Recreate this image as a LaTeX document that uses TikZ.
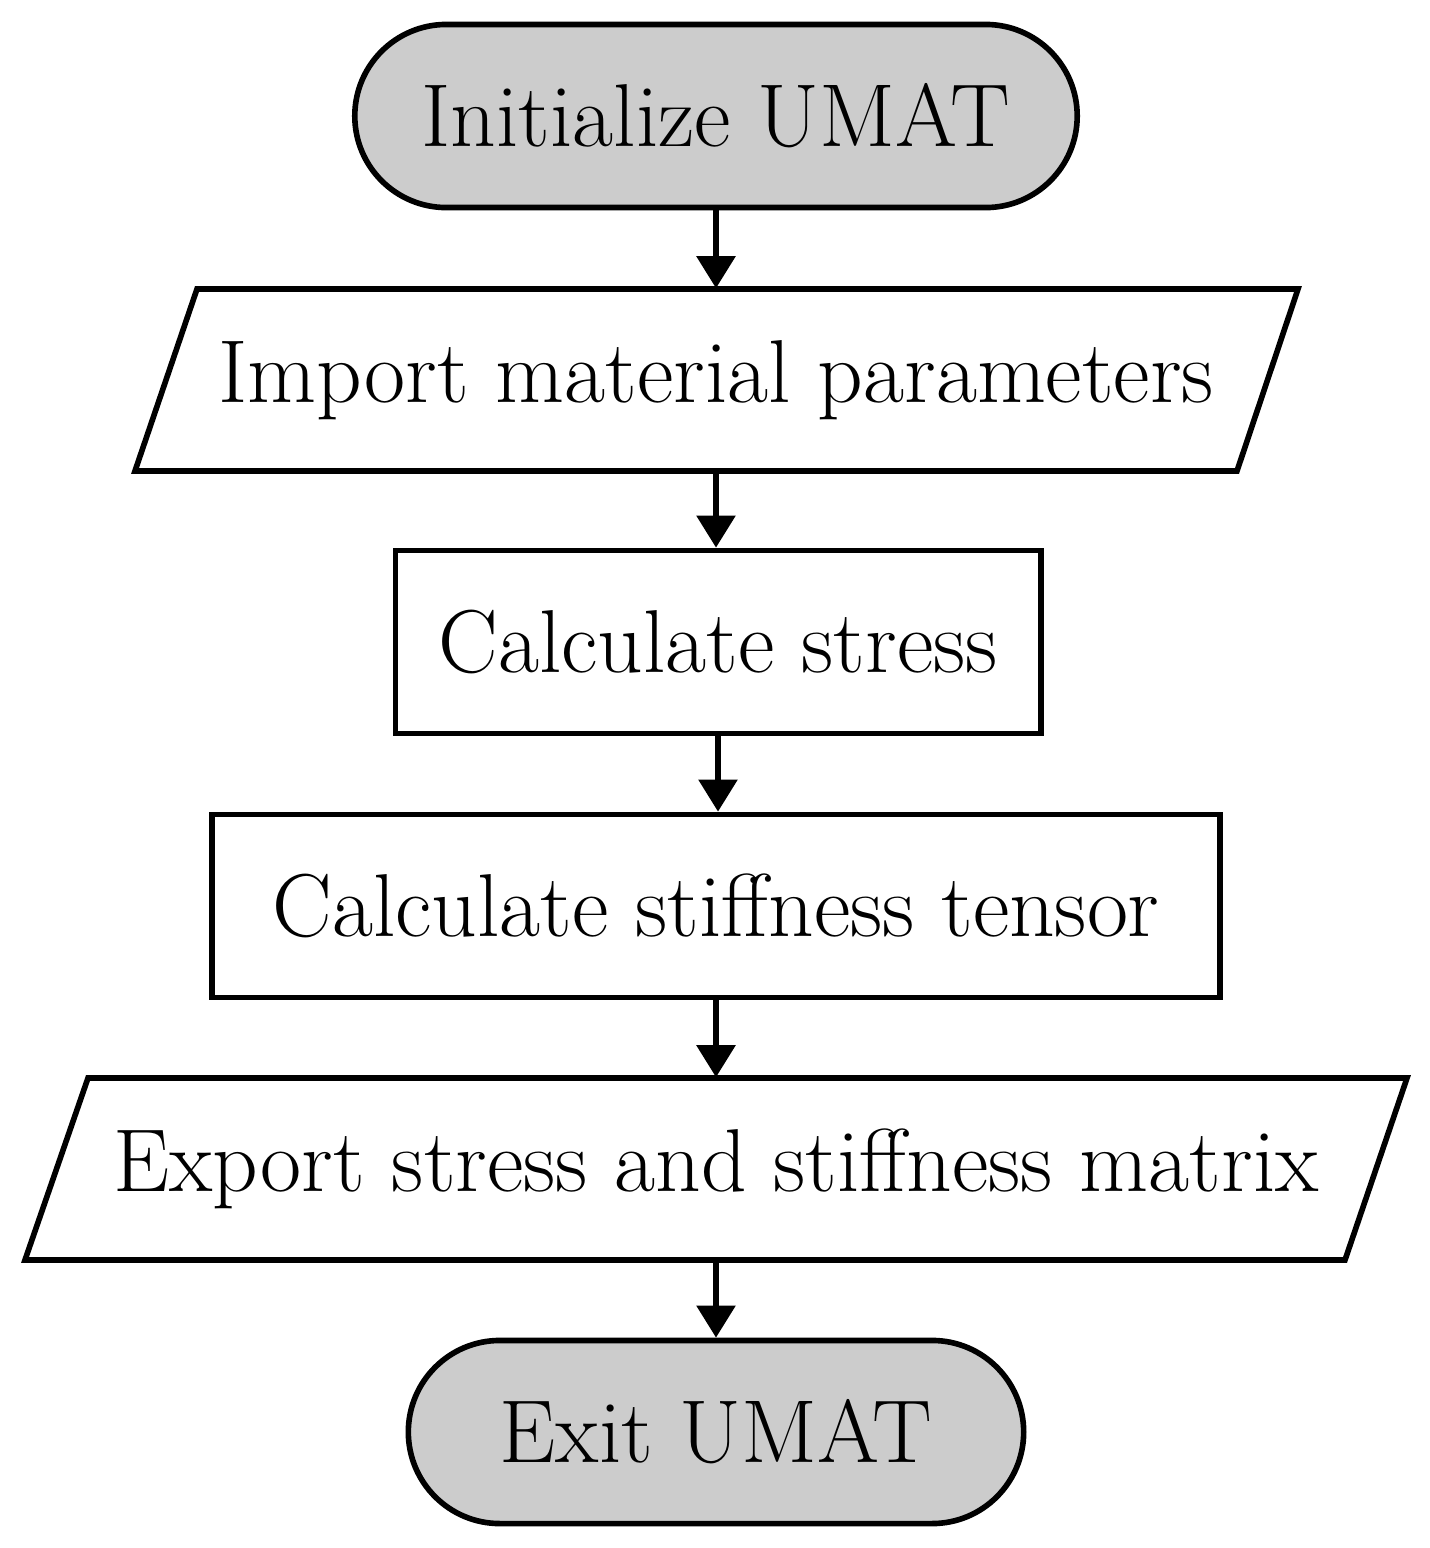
\documentclass[tikz,border=0pt]{standalone}
\usetikzlibrary{arrows.meta}
\begin{document}
\begin{tikzpicture}[x=0.01cm,y=-0.01cm,
  every node/.style={font=\fontsize{25.4}{30}\selectfont},
  box/.style={draw,line width=1.6pt,minimum height=1.83cm,inner sep=0pt},
  term/.style={box,fill=black!20,rounded corners=0.915cm},
  ghost/.style={minimum height=1.82cm,inner sep=0pt},
  para/.style={draw,line width=1.6pt},
  arr/.style={line width=1.6pt,-{Triangle[length=0.32cm,width=0.38cm]}}]
\useasboundingbox (0,0) rectangle (1430,1548);
\node[term,minimum width=7.22cm] (init) at (716,116) {Initialize UMAT};
\draw[para] (197,289) -- (1298,289) -- (1237,471) -- (135,471) -- cycle;
\node[ghost,minimum width=10cm] (imp) at (716,380) {Import material parameters};
\node[box,minimum width=6.45cm] (cs) at (718,642) {Calculate stress};
\node[box,minimum width=10.08cm] (ct) at (716,906) {Calculate stiffness tensor};
\draw[para] (88,1078) -- (1407,1078) -- (1345,1260) -- (25,1260) -- cycle;
\node[ghost,minimum width=12.5cm] (exp) at (716,1169) {Export stress and stiffness matrix};
\node[term,minimum width=6.15cm] (exit) at (716,1432) {Exit UMAT};
\draw[arr] (init.south) -- (init.south |- imp.north);
\draw[arr] (imp.south) -- (imp.south |- cs.north);
\draw[arr] (cs.south) -- (cs.south |- ct.north);
\draw[arr] (ct.south) -- (ct.south |- exp.north);
\draw[arr] (exp.south) -- (exp.south |- exit.north);
\end{tikzpicture}
\end{document}
